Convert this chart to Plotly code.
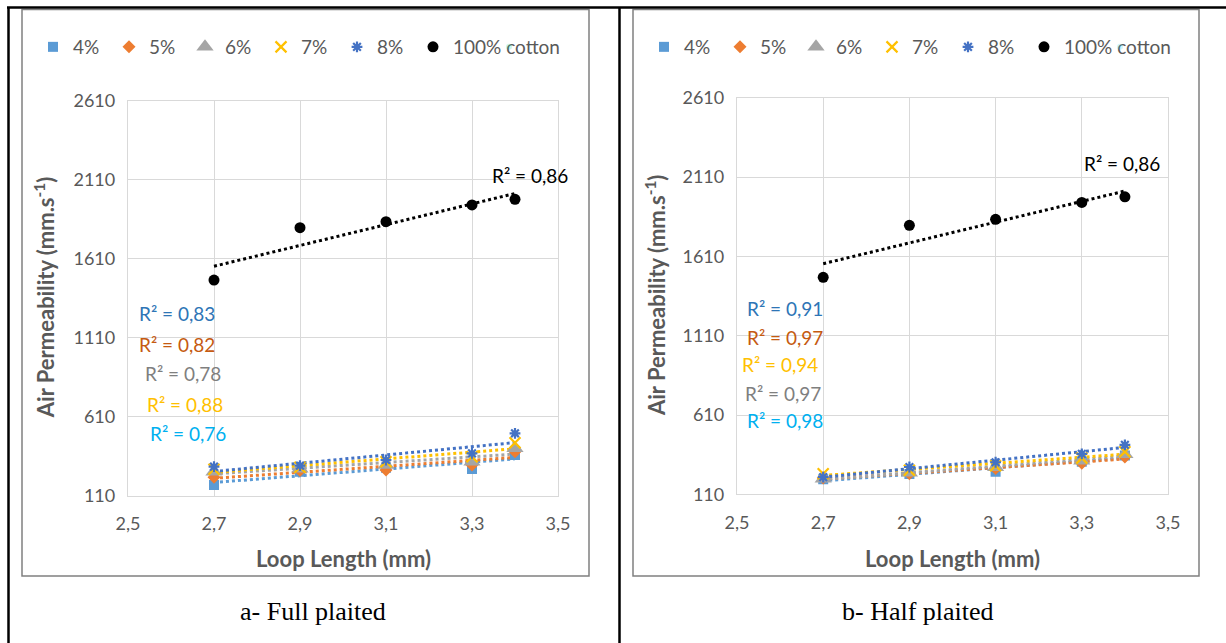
import numpy as np
import plotly.graph_objects as go

# ---- data ----
loop_length = [2.7, 2.9, 3.1, 3.3, 3.4]
series_names = ["4%", "5%", "6%", "7%", "8%", "100% cotton"]

# Full plaited air permeability (mm/s)
full_4 = [178, 262, 287, 279, 368]
full_5 = [226, 270, 273, 304, 388]
full_6 = [262, 280, 304, 325, 410]
full_7 = [277, 290, 325, 357, 445]
full_8 = [294, 300, 336, 378, 505]
full_cotton = [1475, 1806, 1844, 1950, 1986]

# Half plaited air permeability (mm/s)
half_4 = [205, 238, 252, 315, 355]
half_5 = [212, 240, 272, 305, 345]
half_6 = [208, 246, 280, 322, 362]
half_7 = [240, 262, 290, 338, 378]
half_8 = [218, 282, 312, 365, 422]
half_cotton = [1478, 1806, 1844, 1950, 1986]

full_r2 = ["0,83", "0,82", "0,78", "0,88", "0,76", "0,86"]
half_r2 = ["0,91", "0,97", "0,97", "0,94", "0,98", "0,86"]

x_tickvals = [2.5, 2.7, 2.9, 3.1, 3.3, 3.5]
x_ticktext = ["2,5", "2,7", "2,9", "3,1", "3,3", "3,5"]
y_tickvals = [110, 610, 1110, 1610, 2110, 2610]
y_ticktext = ["110", "610", "1110", "1610", "2110", "2610"]

captions = ["a- Full plaited", "b- Half plaited"]

# ---- styling ----
W, H = 1226, 643
FONT = "Lato, 'Noto Sans', sans-serif"
TXT = "#595959"
marker_colors = ["#5B9BD5", "#ED7D31", "#A5A5A5", "#FFC000", "#4472C4", "#000000"]
label_colors = ["#2E75B6", "#C55A11", "#7F7F7F", "#FFC000", "#00B0F0", "#000000"]
symbols = ["square", "diamond", "triangle-up", "x-thin-open", "asterisk-open", "circle"]
sizes = [10, 10, 15, 11, 9, 11]


def px(x):
    return x / W


def py(y):
    return 1 - y / H


def label(x, y, text, font, **kw):
    fig.add_annotation(x=px(x), y=py(y), xref="paper", yref="paper", text=text,
                       showarrow=False, xanchor="center", yanchor="middle",
                       font=font, **kw)


fig = go.Figure()

panels = [
    dict(series=[full_4, full_5, full_6, full_7, full_8, full_cotton], r2=full_r2,
         xa="x", ya="y", legend="legend",
         xdom=(128, 558), ydom=(495.7, 100.7), dx=0,
         label_pos=[(177, 313), (177, 344), (183, 373), (185, 404), (188, 433), (530, 175)]),
    dict(series=[half_4, half_5, half_6, half_7, half_8, half_cotton], r2=half_r2,
         xa="x2", ya="y2", legend="legend2",
         xdom=(737, 1168), ydom=(494.3, 97.8), dx=611,
         label_pos=[(785, 308), (785, 337), (783, 393), (780, 364), (785, 421), (1122, 163)]),
]

for p in panels:
    # dotted linear trendlines, drawn underneath the markers
    xs = np.array([min(loop_length), max(loop_length)])
    for vals, col in zip(p["series"], marker_colors):
        k, b = np.polyfit(loop_length, vals, 1)
        fig.add_trace(go.Scatter(
            x=xs, y=k * xs + b, mode="lines", xaxis=p["xa"], yaxis=p["ya"],
            line=dict(color=col, width=3, dash="dot"), showlegend=False,
            hoverinfo="skip"))
    for name, vals, col, sym, sz in zip(series_names, p["series"], marker_colors, symbols, sizes):
        line = dict(color=col, width=2.2) if sym.endswith("open") else dict(width=0)
        fig.add_trace(go.Scatter(
            x=loop_length, y=vals, mode="markers", name=name,
            xaxis=p["xa"], yaxis=p["ya"], legend=p["legend"],
            marker=dict(symbol=sym, size=sz, color=col, line=line)))
    # empty entry that leaves room for the last (long) legend label
    fig.add_trace(go.Scatter(x=[None], y=[None], mode="markers", name=" ",
                             xaxis=p["xa"], yaxis=p["ya"], legend=p["legend"],
                             marker=dict(opacity=0), hoverinfo="skip"))

    for txt, col, (lx, ly) in zip(p["r2"], label_colors, p["label_pos"]):
        label(lx, ly, "R² = " + txt, dict(family=FONT, size=19, color=col))

axis_common = dict(showgrid=True, gridcolor="#D9D9D9", gridwidth=1.3,
                   zeroline=False, showline=True, mirror=True,
                   linecolor="#D9D9D9", linewidth=1.3, ticks="",
                   tickfont=dict(family=FONT, size=18, color=TXT))

layout = dict(width=W, height=H, margin=dict(l=0, r=0, t=0, b=0, autoexpand=False),
              paper_bgcolor="white", plot_bgcolor="white", showlegend=True)

for i, p in enumerate(panels):
    sfx = "" if i == 0 else "2"
    layout["xaxis" + sfx] = dict(axis_common, domain=[px(p["xdom"][0]), px(p["xdom"][1])],
                                 range=[2.5, 3.5], tickvals=x_tickvals, ticktext=x_ticktext,
                                 anchor="y" + sfx, ticklabelstandoff=12)
    layout["yaxis" + sfx] = dict(axis_common, domain=[py(p["ydom"][0]), py(p["ydom"][1])],
                                 range=[110, 2610], tickvals=y_tickvals, ticktext=y_ticktext,
                                 anchor="x" + sfx, ticklabelstandoff=8)
    layout["legend" + sfx] = dict(orientation="h", x=px(33 + p["dx"]), y=py(47),
                                  xanchor="left", yanchor="middle",
                                  entrywidth=31, itemwidth=30, bgcolor="rgba(0,0,0,0)",
                                  font=dict(family=FONT, size=19, color=TXT))

fig.update_layout(**layout)

# axis titles and panel captions
for i, p in enumerate(panels):
    cx = (p["xdom"][0] + p["xdom"][1]) / 2
    cy = (p["ydom"][0] + p["ydom"][1]) / 2
    label(44 + p["dx"], cy, "<b>Air Permeability (mm.s<sup>-1</sup>)</b>",
          dict(family=FONT, size=22, color=TXT), textangle=-90)
    label(cx, 558, "<b>Loop Length (mm)</b>", dict(family=FONT, size=22, color=TXT))
    label(313 + p["dx"] - (6 if i else 0), 611, captions[i],
          dict(family="'Liberation Serif', 'Times New Roman', serif", size=26, color="black"))

# chart frames and table rules
shapes = []
for x0, x1 in [(22, 589), (633, 1199)]:
    shapes.append(dict(type="rect", xref="paper", yref="paper",
                       x0=px(x0), x1=px(x1), y0=py(576), y1=py(9.5),
                       line=dict(color="#808080", width=1.5)))
shapes.append(dict(type="line", xref="paper", yref="paper", x0=px(7), x1=1,
                   y0=py(7.5), y1=py(7.5), line=dict(color="black", width=2.5)))
for xv in [8.5, 619.5]:
    shapes.append(dict(type="line", xref="paper", yref="paper", x0=px(xv), x1=px(xv),
                       y0=py(7), y1=0, line=dict(color="black", width=2.5)))
fig.update_layout(shapes=shapes)

fig.write_html("out.html")
